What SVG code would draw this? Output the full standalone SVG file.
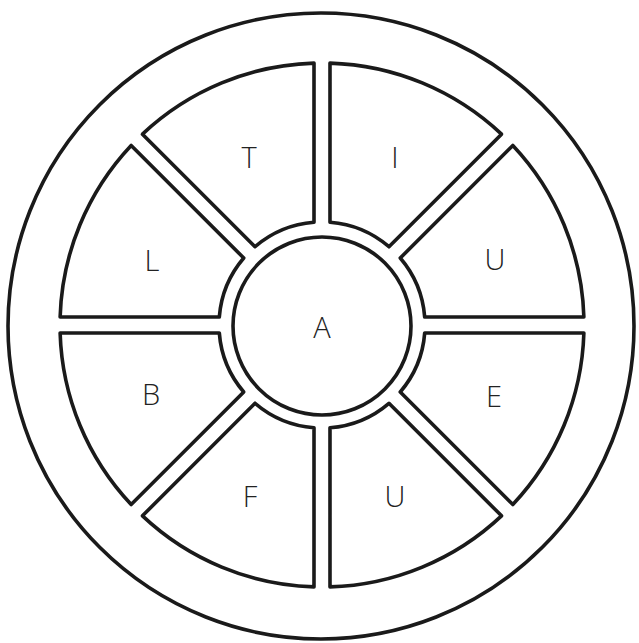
<svg xmlns="http://www.w3.org/2000/svg" width="639" height="643" viewBox="0 0 639 643">
<defs>
<style>
.ln{fill:#fff;stroke:#1a1a1a;stroke-width:3.6;stroke-linejoin:round}
.lb{font-family:"Open Sans","Liberation Sans",sans-serif;font-weight:300;font-size:29px;fill:#222;text-anchor:middle}
</style>
<path id="seg" d="M 102.69 7.99 L 261.88 8.00 A 262 262 0 0 1 190.83 179.52 L 78.26 66.96 A 103 103 0 0 0 102.69 7.99 Z"/>
</defs>
<rect width="639" height="643" fill="#fff"/>
<g id="rim"><circle class="ln" cx="321" cy="326" r="313"/></g>
<g id="segE"><use href="#seg" class="ln" transform="translate(322 325) rotate(0)"/><text class="lb" x="494" y="407">E</text></g>
<g id="segU2"><use href="#seg" class="ln" transform="translate(322 325) rotate(45)"/><text class="lb" x="395" y="507">U</text></g>
<g id="segF"><use href="#seg" class="ln" transform="translate(322 325) rotate(90)"/><text class="lb" x="250" y="507">F</text></g>
<g id="segB"><use href="#seg" class="ln" transform="translate(322 325) rotate(135)"/><text class="lb" x="151" y="405">B</text></g>
<g id="segL"><use href="#seg" class="ln" transform="translate(322 325) rotate(180)"/><text class="lb" x="152" y="271">L</text></g>
<g id="segT"><use href="#seg" class="ln" transform="translate(322 325) rotate(225)"/><text class="lb" x="249" y="168">T</text></g>
<g id="segI"><use href="#seg" class="ln" transform="translate(322 325) rotate(270)"/><text class="lb" x="395" y="168">I</text></g>
<g id="segU1"><use href="#seg" class="ln" transform="translate(322 325) rotate(315)"/><text class="lb" x="495" y="270">U</text></g>
<g id="hub"><circle class="ln" cx="322" cy="326" r="89"/><text class="lb" x="322" y="338">A</text></g>
<g id="connectors"/>
</svg>
